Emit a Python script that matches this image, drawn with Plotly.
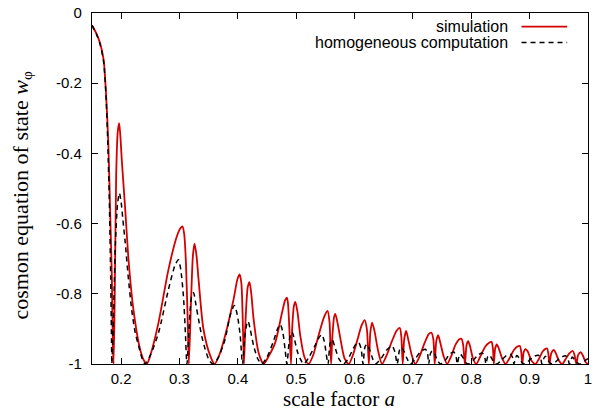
import plotly.graph_objects as go

# ---- data ----
sim_a = [
    0.150, 0.158, 0.164, 0.170, 0.174, 0.178, 0.181, 0.184, 0.1857, 0.187,
    0.189, 0.1914, 0.194, 0.1966, 0.199, 0.201, 0.207, 0.2126, 0.221, 0.2326, 0.239, 0.244,
    0.250, 0.264, 0.281, 0.2955, 0.302, 0.305, 0.308, 0.311, 0.3144, 0.316,
    0.320, 0.323, 0.3257, 0.329, 0.3326, 0.341, 0.3527, 0.360,
    0.368, 0.378, 0.3926, 0.399, 0.403, 0.406, 0.408, 0.4104,
    0.413, 0.417, 0.420, 0.423, 0.427, 0.4355, 0.444,
    0.452, 0.464, 0.4756, 0.481, 0.484, 0.486, 0.488, 0.491,
    0.493, 0.496, 0.4985, 0.502, 0.507, 0.514, 0.521,
    0.529, 0.538, 0.548, 0.5537, 0.557, 0.5597, 0.562, 0.565, 0.567, 0.571, 0.577, 0.583, 0.590,
    0.597, 0.605, 0.612, 0.6173, 0.621, 0.6245, 0.627, 0.630, 0.634, 0.640, 0.647,
    0.655, 0.664, 0.672, 0.6774, 0.680, 0.6825, 0.685, 0.6883, 0.692, 0.698, 0.704,
    0.711, 0.720, 0.727, 0.7317, 0.735, 0.7373, 0.740, 0.7432, 0.747, 0.753, 0.7586,
    0.765, 0.773, 0.779, 0.7832, 0.786, 0.789, 0.792, 0.7947, 0.798, 0.803, 0.8085,
    0.815, 0.824, 0.830, 0.8346, 0.837, 0.8386, 0.841, 0.8437, 0.847, 0.853, 0.8587,
    0.865, 0.873, 0.879, 0.8832, 0.8855, 0.8873, 0.890, 0.893, 0.897, 0.903, 0.910,
    0.916, 0.922, 0.927, 0.930, 0.932, 0.934, 0.937, 0.9415, 0.945, 0.950, 0.9558,
    0.962, 0.968, 0.9741, 0.977, 0.980, 0.983, 0.9873, 0.991, 0.996, 1.000,
]
sim_w = [
    -0.035, -0.060, -0.087, -0.134, -0.229, -0.371, -0.560, -0.750, -0.940, -1.000,
    -0.800, -0.466, -0.340, -0.314, -0.360, -0.418, -0.561, -0.703, -0.845, -0.959, -0.990, -1.000,
    -0.975, -0.882, -0.731, -0.636, -0.612, -0.608, -0.630, -0.712, -0.901, -1.000,
    -0.807, -0.690, -0.657, -0.690, -0.759, -0.901, -0.977, -1.000,
    -0.975, -0.920, -0.816, -0.760, -0.745, -0.770, -0.854, -1.000,
    -0.880, -0.780, -0.767, -0.800, -0.873, -0.968, -1.000,
    -0.980, -0.939, -0.854, -0.818, -0.811, -0.830, -0.892, -1.000,
    -0.900, -0.835, -0.823, -0.850, -0.920, -0.980, -1.000,
    -0.975, -0.920, -0.865, -0.849, -0.880, -1.000, -0.920, -0.865, -0.857, -0.885, -0.940, -0.985, -1.000,
    -0.975, -0.930, -0.890, -0.875, -0.900, -1.000, -0.910, -0.882, -0.905, -0.960, -1.000,
    -0.975, -0.935, -0.905, -0.897, -0.920, -1.000, -0.930, -0.906, -0.930, -0.975, -1.000,
    -0.980, -0.940, -0.915, -0.911, -0.930, -1.000, -0.935, -0.918, -0.940, -0.980, -1.000,
    -0.980, -0.945, -0.930, -0.928, -0.945, -1.000, -0.945, -0.935, -0.950, -0.985, -1.000,
    -0.980, -0.950, -0.940, -0.937, -0.955, -1.000, -0.955, -0.944, -0.955, -0.985, -1.000,
    -0.985, -0.960, -0.950, -0.949, -0.965, -1.000, -0.965, -0.958, -0.965, -0.990, -1.000,
    -0.985, -0.965, -0.957, -0.956, -0.970, -1.000, -0.970, -0.960, -0.970, -0.990, -1.000,
    -0.985, -0.970, -0.963, -0.975, -1.000, -0.975, -0.966, -0.975, -0.995, -1.000,
]

hom_a = [
    0.150, 0.158, 0.164, 0.170, 0.174, 0.177, 0.180, 0.182, 0.1835, 0.184,
    0.187, 0.190, 0.194, 0.197, 0.200, 0.203, 0.207, 0.212, 0.218, 0.224, 0.230, 0.236, 0.241,
    0.250, 0.264, 0.281, 0.292, 0.298, 0.302, 0.3067, 0.310, 0.3127,
    0.318, 0.321, 0.324, 0.328, 0.3326, 0.338, 0.344, 0.351, 0.358,
    0.367, 0.378, 0.387, 0.394, 0.399, 0.404, 0.408,
    0.412, 0.4155, 0.4175, 0.421, 0.427, 0.434, 0.441,
    0.450, 0.461, 0.468, 0.4727, 0.477, 0.481, 0.484,
    0.488, 0.491, 0.493, 0.497, 0.503, 0.5127,
    0.522, 0.533, 0.540, 0.544, 0.548, 0.5545, 0.558, 0.5614, 0.566, 0.573, 0.581,
    0.589, 0.598, 0.603, 0.607, 0.611, 0.6145, 0.618, 0.6214, 0.626, 0.631, 0.6357,
    0.645, 0.655, 0.6643, 0.669, 0.673, 0.677, 0.680, 0.685, 0.690, 0.6957,
    0.704, 0.713, 0.7214, 0.725, 0.727, 0.730, 0.7328, 0.737, 0.742, 0.7472,
    0.755, 0.763, 0.770, 0.774, 0.776, 0.779, 0.7815, 0.786, 0.790, 0.795,
    0.803, 0.812, 0.819, 0.823, 0.825, 0.828, 0.831, 0.835, 0.839, 0.844,
    0.851, 0.860, 0.867, 0.871, 0.873, 0.876, 0.878, 0.883, 0.887, 0.892,
    0.899, 0.908, 0.915, 0.919, 0.921, 0.924, 0.927, 0.931, 0.935, 0.940,
    0.947, 0.955, 0.962, 0.966, 0.968, 0.971, 0.973, 0.978, 0.983, 0.988, 0.995, 1.000,
]
hom_w = [
    -0.035, -0.062, -0.090, -0.140, -0.235, -0.370, -0.560, -0.750, -0.940, -1.000,
    -0.850, -0.660, -0.540, -0.513, -0.540, -0.590, -0.655, -0.750, -0.845, -0.910, -0.949, -0.985, -1.000,
    -0.975, -0.911, -0.788, -0.720, -0.703, -0.730, -0.807, -0.910, -1.000,
    -0.850, -0.805, -0.797, -0.830, -0.873, -0.920, -0.958, -0.990, -1.000,
    -0.980, -0.930, -0.860, -0.833, -0.860, -0.920, -1.000,
    -0.920, -0.885, -0.878, -0.900, -0.948, -0.985, -1.000,
    -0.980, -0.935, -0.900, -0.887, -0.910, -0.960, -1.000,
    -0.935, -0.912, -0.909, -0.930, -0.970, -1.000,
    -0.980, -0.945, -0.922, -0.916, -0.935, -1.000, -0.940, -0.930, -0.950, -0.985, -1.000,
    -0.985, -0.955, -0.942, -0.939, -0.955, -1.000, -0.950, -0.944, -0.960, -0.985, -1.000,
    -0.985, -0.960, -0.949, -0.965, -1.000, -0.960, -0.953, -0.965, -0.985, -1.000,
    -0.985, -0.965, -0.958, -0.970, -1.000, -0.970, -0.963, -0.970, -0.990, -1.000,
    -0.990, -0.972, -0.966, -0.980, -1.000, -0.978, -0.972, -0.982, -0.995, -1.000,
    -0.990, -0.974, -0.969, -0.980, -1.000, -0.980, -0.974, -0.984, -0.996, -1.000,
    -0.990, -0.976, -0.972, -0.982, -1.000, -0.982, -0.976, -0.985, -0.996, -1.000,
    -0.990, -0.978, -0.975, -0.985, -1.000, -0.985, -0.978, -0.988, -0.997, -1.000,
    -0.990, -0.980, -0.977, -0.987, -1.000, -0.987, -0.980, -0.990, -0.998, -1.000, -0.990, -0.985,
]

x_ticks = [0.2, 0.3, 0.4, 0.5, 0.6, 0.7, 0.8, 0.9, 1.0]
x_labels = ["0.2", "0.3", "0.4", "0.5", "0.6", "0.7", "0.8", "0.9", "1"]
y_ticks = [0, -0.2, -0.4, -0.6, -0.8, -1]
y_labels = ["0", "-0.2", "-0.4", "-0.6", "-0.8", "-1"]
series_names = ["simulation", "homogeneous computation"]

RED = "#d40000"
SANS = "Liberation Sans, Arial, sans-serif"
SERIF = "Liberation Serif, Times New Roman, serif"

fig = go.Figure()
fig.add_trace(go.Scatter(x=sim_a, y=sim_w, mode="lines", name=series_names[0],
                         line=dict(color=RED, width=1.8, shape="spline", smoothing=0.7),
                         showlegend=False))
fig.add_trace(go.Scatter(x=hom_a, y=hom_w, mode="lines", name=series_names[1],
                         line=dict(color="black", width=1.5, dash="5px,4px", shape="spline", smoothing=0.7),
                         showlegend=False))

axis_common = dict(showgrid=False, zeroline=False, showline=True, linecolor="black",
                   linewidth=1.3, mirror="ticks", ticks="inside", ticklen=6,
                   tickcolor="black", tickwidth=1.2, automargin=False,
                   tickfont=dict(family=SANS, size=15, color="black"))

fig.update_xaxes(range=[0.15, 1.0], tickvals=x_ticks, ticktext=x_labels,
                 ticklabelstandoff=1, **axis_common)
fig.update_yaxes(range=[-1.0, 0.0], tickvals=y_ticks, ticktext=y_labels,
                 ticklabelstandoff=6, **axis_common)

# legend drawn gnuplot-style: text right-aligned, sample line to the right
leg_rows = [(0.961, dict(color=RED, width=1.8)), (0.916, dict(color="black", width=1.5, dash="5px,4px"))]
annotations = []
shapes = []
for name, (yy, ln) in zip(series_names, leg_rows):
    annotations.append(dict(text=name, xref="paper", yref="paper", x=0.843, y=yy,
                            xanchor="right", yanchor="middle", showarrow=False,
                            font=dict(family=SANS, size=16, color="black")))
    shapes.append(dict(type="line", xref="paper", yref="paper", x0=0.866, x1=0.958,
                       y0=yy, y1=yy, line=ln))

annotations.append(dict(text="scale factor <i>a</i>", xref="paper", yref="paper",
                        x=0.498, y=-0.1011, xanchor="center", yanchor="middle", showarrow=False,
                        font=dict(family=SERIF, size=21, color="black")))
annotations.append(dict(text="cosmon equation of state <i>w</i><sub>φ</sub>", xref="paper", yref="paper",
                        x=-0.143, y=0.48, xanchor="center", yanchor="middle", showarrow=False,
                        textangle=-90, font=dict(family=SERIF, size=22, color="black")))

fig.update_layout(width=594, height=411, margin=dict(l=92, r=6, t=13, b=47),
                  paper_bgcolor="white", plot_bgcolor="white",
                  annotations=annotations, shapes=shapes, showlegend=False)

fig.write_html("out.html", config={"displayModeBar": False},
               post_script="document.body.style.margin='0px';")
